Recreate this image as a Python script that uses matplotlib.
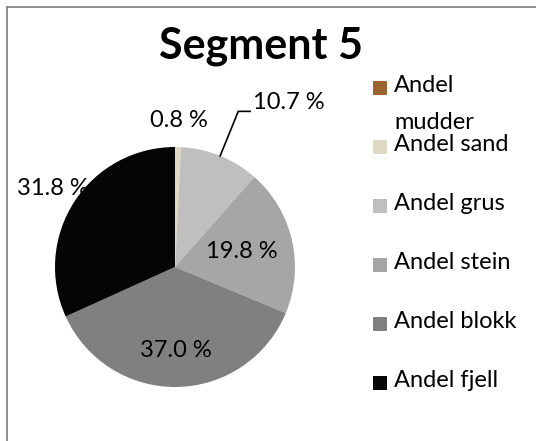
import numpy as np
import matplotlib.pyplot as plt
from matplotlib.lines import Line2D
from matplotlib.patches import Rectangle

# 字体
plt.rcParams['font.family'] = ['Lato', 'DejaVu Sans']

# 数据
categories = ['Andel\nmudder', 'Andel sand', 'Andel grus', 'Andel stein', 'Andel blokk', 'Andel fjell']
values = [0.0, 0.8, 10.7, 19.8, 37.0, 31.8]
colors = ['#996633', '#DDD9C3', '#BFBFBF', '#A6A6A6', '#808080', '#050505']
title = 'Segment 5'

W, H = 536, 441
fig = plt.figure(figsize=(W / 100, H / 100), dpi=100)


def fx(x):
    return x / W


def fy(y):
    return 1 - y / H


# 外框 (右边和下边被裁掉)
frame_kw = dict(transform=fig.transFigure, color='#868686', lw=1.3)
fig.add_artist(Line2D([fx(7), fx(7)], [fy(7), 0], **frame_kw))
fig.add_artist(Line2D([fx(7), 1], [fy(7), fy(7)], **frame_kw))

fig.text(fx(261), fy(46), title, fontsize=31, fontweight='bold', ha='center', va='center')

# 饼图
ax = fig.add_axes([fx(55), fy(387), 240 / W, 240 / H])
wedges, _ = ax.pie(values, colors=colors, startangle=90, counterclock=False,
                   wedgeprops=dict(linewidth=0))
ax.set_xlim(-1, 1)
ax.set_ylim(-1, 1)
ax.set_aspect('equal')

fs = 17
# 标签半径, None 表示不显示
label_r = [None, 1.22, 1.4, 0.57, 0.70, 1.21]
for w, v, r in zip(wedges, values, label_r):
    if r is None or v == 0:
        continue
    ang = np.deg2rad((w.theta1 + w.theta2) / 2)
    txt = f'{v:.1f} %'
    if v == 10.7:
        # 引导线
        x0, y0 = np.cos(ang), np.sin(ang)
        x1, y1 = r * np.cos(ang), r * np.sin(ang)
        ax.plot([x0, x1, x1 + 0.1], [y0, y1, y1], color='black', lw=1.2, clip_on=False)
        ax.text(x1 + 0.12, y1 + 0.07, txt, fontsize=fs, ha='left', va='center')
    else:
        ax.text(r * np.cos(ang), r * np.sin(ang), txt, fontsize=fs, ha='center', va='center')

# 图例
for i, (lab, c) in enumerate(zip(categories, colors)):
    yc = 88 + 59 * i
    fig.add_artist(Rectangle((fx(373), fy(yc + 7)), 14 / W, 14 / H, transform=fig.transFigure,
                             facecolor=c, edgecolor='none'))
    fig.text(fx(394), fy(yc - 13), lab, fontsize=fs, ha='left', va='top', linespacing=1.95)

fig.savefig('out.png', dpi=100)
